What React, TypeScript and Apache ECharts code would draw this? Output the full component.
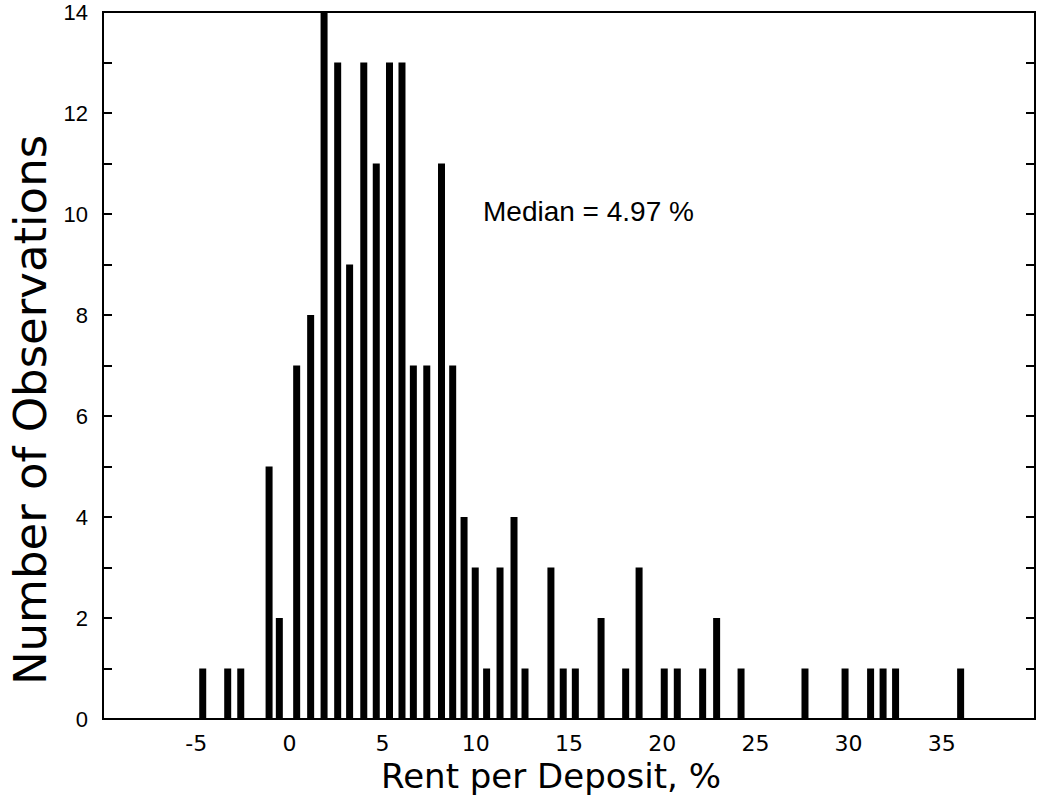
import React, { useEffect, useRef } from "react";
import * as echarts from "echarts";

// Rent per deposit (%) at which each histogram bar stands
const rentPerDeposit = [
  -4.65, -3.31, -2.61, -1.09, -0.54, 0.39, 1.14, 1.86, 2.59, 3.23, 3.99, 4.66,
  5.37, 6.04, 6.65, 7.37, 8.16, 8.76, 9.37, 9.97, 10.58, 11.3, 12.05, 12.64,
  14.03, 14.69, 15.34, 16.72, 18.04, 18.76, 20.11, 20.81, 22.17, 22.92, 24.23,
  27.66, 29.81, 31.18, 31.85, 32.52, 36.01,
];

// Number of observations for each bar
const observations = [
  1, 1, 1, 5, 2, 7, 8, 14, 13, 9, 13, 11, 13, 13, 7, 7, 11, 7, 4, 3, 1, 3, 4, 1,
  3, 1, 1, 2, 1, 3, 1, 1, 1, 2, 1, 1, 1, 1, 1, 1, 1,
];

const xRange = [-10, 40];
const yRange = [0, 14];
const medianLabel = "Median = 4.97 %";
const xTitle = "Rent per Deposit, %";
const yTitle = "Number of Observations";

export default function App() {
  const ref = useRef<HTMLDivElement>(null);

  useEffect(() => {
    if (!ref.current) return;
    const chart = echarts.init(ref.current, null, { renderer: "svg" });
    const ink = "#000";
    const frameY = (position: "left" | "right", labelled: boolean) => ({
      type: "value",
      min: yRange[0],
      max: yRange[1],
      interval: 1,
      position,
      axisLine: { show: true, onZero: false, lineStyle: { color: ink, width: 2 } },
      axisTick: { show: true, inside: true, length: 9, lineStyle: { color: ink, width: 2 } },
      splitLine: { show: false },
      axisLabel: labelled
        ? {
            color: ink,
            fontSize: 22,
            fontFamily: "Liberation Sans",
            margin: 15,
            formatter: (v: number) => (v % 2 === 0 ? String(v) : ""),
          }
        : { show: false },
    });
    chart.setOption({
      animation: false,
      backgroundColor: "#fff",
      grid: {
        left: 103,
        right: 5,
        top: 12,
        bottom: 90,
        show: true,
        borderColor: ink,
        borderWidth: 2,
      },
      xAxis: {
        type: "value",
        min: xRange[0],
        max: xRange[1],
        interval: 5,
        axisLine: { show: true, onZero: false, lineStyle: { color: ink, width: 2 } },
        axisTick: { show: false },
        splitLine: { show: false },
        axisLabel: {
          showMinLabel: false,
          showMaxLabel: false,
          color: ink,
          fontSize: 22,
          fontFamily: "DejaVu Sans",
          margin: 13,
        },
      },
      yAxis: [frameY("left", true), frameY("right", false)],
      series: [
        {
          type: "bar",
          yAxisIndex: 0,
          barWidth: 7,
          itemStyle: { color: ink },
          data: rentPerDeposit.map((x, i) => [x, observations[i]]),
        },
      ],
      graphic: [
        {
          type: "text",
          left: 483,
          top: 197,
          style: {
            text: medianLabel,
            fill: ink,
            font: "28px 'Liberation Sans'",
          },
        },
        {
          type: "text",
          x: 551,
          y: 776,
          style: {
            text: xTitle,
            fill: ink,
            font: "34px 'DejaVu Sans'",
            textAlign: "center",
            textVerticalAlign: "middle",
          },
        },
        {
          type: "text",
          x: 30,
          y: 410,
          rotation: Math.PI / 2,
          style: {
            text: yTitle,
            fill: ink,
            font: "45px 'DejaVu Sans'",
            textAlign: "center",
            textVerticalAlign: "middle",
          },
        },
      ],
    });
    return () => chart.dispose();
  }, []);

  return (
    <div
      ref={ref}
      style={{ position: "absolute", left: 0, top: 0, width: 1040, height: 809 }}
    />
  );
}
